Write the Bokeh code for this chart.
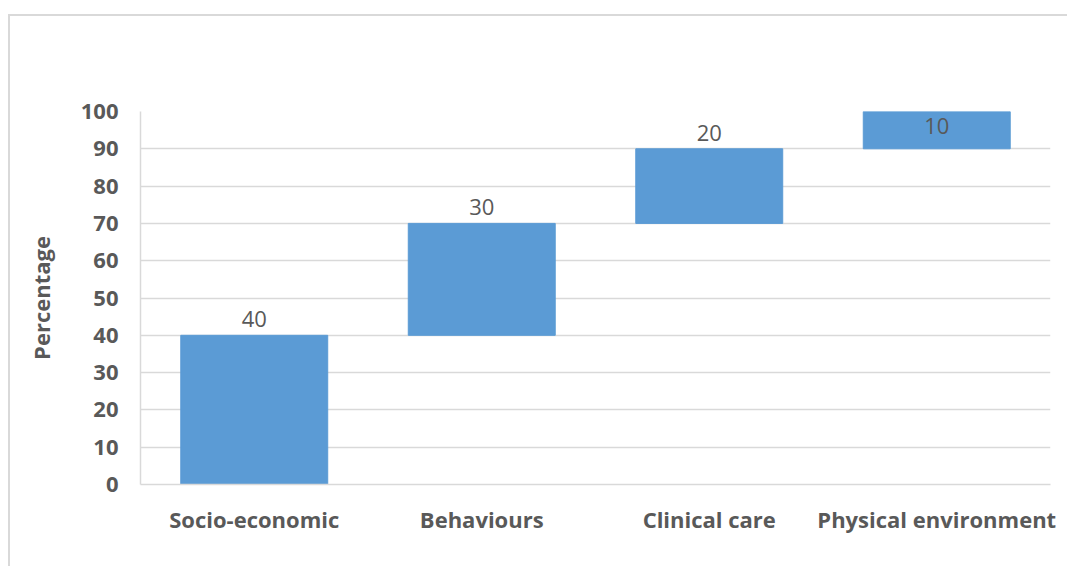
from bokeh.plotting import figure
from bokeh.models import ColumnDataSource, FactorRange, Range1d, FixedTicker
from bokeh.core.properties import value
from bokeh.embed import file_html
from bokeh.resources import INLINE

# Contribution of each factor to health outcomes (waterfall)
categories = ["Socio-economic", "Behaviours", "Clinical care", "Physical environment"]
shares = [40, 30, 20, 10]
y_ticks = [0, 10, 20, 30, 40, 50, 60, 70, 80, 90, 100]

# Stack each step on top of the running total
tops, bottoms, running = [], [], 0
for s in shares:
    bottoms.append(running)
    running += s
    tops.append(running)

y_max = 100
label_offsets = [-16 if t < y_max else 14 for t in tops]

src = ColumnDataSource(dict(
    cat=categories, top=tops, bottom=bottoms,
    label=[str(s) for s in shares], yoff=label_offsets,
))

FONT = "Open Sans"
GREY = "#595959"
GRID = "#d9d9d9"

p = figure(
    x_range=FactorRange(*categories, range_padding=0),
    y_range=Range1d(0, y_max),
    width=1059, height=552,
    output_backend="svg", toolbar_location=None,
    min_border_left=130, min_border_right=19,
    min_border_top=95, min_border_bottom=84,
    margin=(14, 0, 0, 8),
    styles={"border-left": f"2px solid {GRID}", "border-top": f"2px solid {GRID}"},
)
p.outline_line_color = None
p.background_fill_color = "white"
p.border_fill_color = "white"

p.vbar(x="cat", top="top", bottom="bottom", width=0.646, source=src,
       fill_color="#5b9bd5", line_color="#5b9bd5", line_width=1)

p.text(x="cat", y="top", text="label", y_offset="yoff", source=src,
       text_align="center", text_baseline="middle",
       text_font=value(FONT), text_font_size="22px", text_color=GREY)

p.yaxis.ticker = FixedTicker(ticks=y_ticks)
p.ygrid.grid_line_color = GRID
p.ygrid.grid_line_width = 1.5
p.xgrid.grid_line_color = None

for ax in (p.xaxis, p.yaxis):
    ax.axis_line_color = GRID
    ax.axis_line_width = 1.5
    ax.major_tick_line_color = None
    ax.minor_tick_line_color = None
    ax.major_label_text_font = FONT
    ax.major_label_text_font_style = "bold"
    ax.major_label_text_font_size = "22px"
    ax.major_label_text_color = GREY

p.yaxis.major_label_standoff = 16
p.xaxis.major_label_standoff = 13
p.yaxis.axis_label = "Percentage"
p.yaxis.axis_label_text_font = FONT
p.yaxis.axis_label_text_font_style = "bold"
p.yaxis.axis_label_text_font_size = "22px"
p.yaxis.axis_label_text_color = GREY
p.yaxis.axis_label_standoff = 22

open("out.html", "w").write(file_html(p, INLINE))
